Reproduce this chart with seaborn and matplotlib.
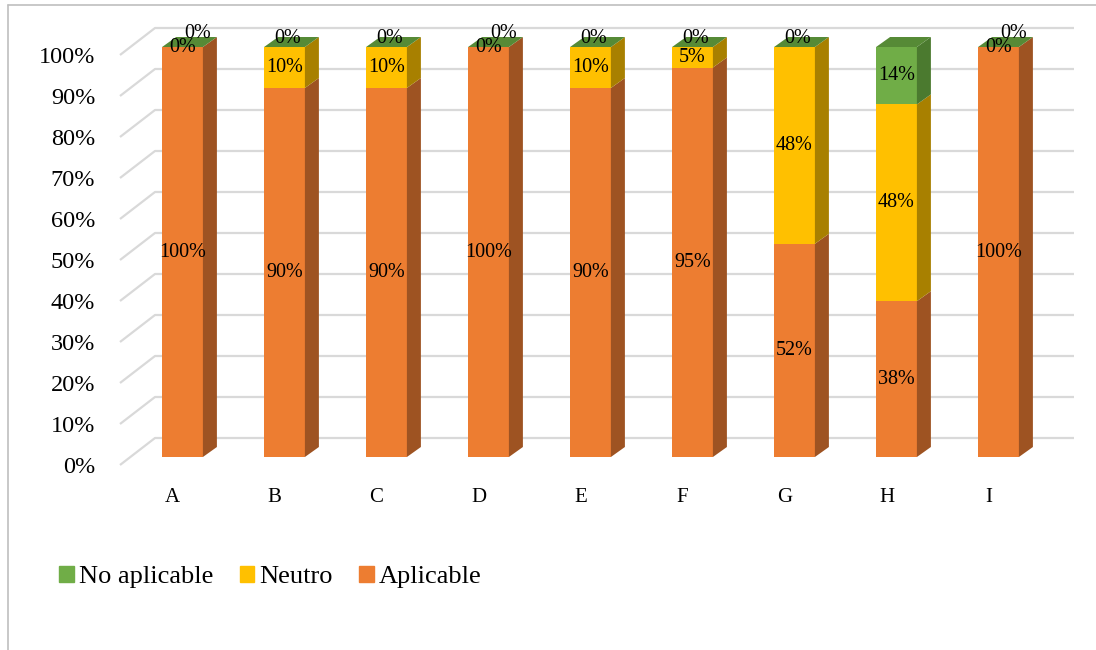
import numpy as np
import pandas as pd
import matplotlib
matplotlib.use("Agg")
import matplotlib.pyplot as plt
import matplotlib.transforms as mtransforms
from matplotlib.patches import Polygon, Patch
from matplotlib.lines import Line2D
import seaborn as sns

sns.set_style("white")
plt.rcParams["font.family"] = ["Liberation Serif", "DejaVu Serif"]
plt.rcParams["text.color"] = "black"
plt.rcParams["xtick.color"] = "black"
plt.rcParams["ytick.color"] = "black"

# data (percent)
categories   = ["A", "B", "C", "D", "E", "F", "G", "H", "I"]
aplicable    = [100, 90, 90, 100, 90, 95, 52, 38, 100]
neutro       = [0, 10, 10, 0, 10, 5, 48, 48, 0]
no_aplicable = [0, 0, 0, 0, 0, 0, 0, 14, 0]
yticks       = list(range(0, 101, 10))

ORANGE, ORANGE_S = "#ED7D31", "#9E5322"
YELLOW, YELLOW_S = "#FFC000", "#A88000"
GREEN, GREEN_S, GREEN_T = "#70AD47", "#4B7A2F", "#568A36"
GRID = "#D9D9D9"

df = pd.DataFrame({"cat": categories, "apl": aplicable, "neu": neutro, "noa": no_aplicable})
df["c1"] = df["apl"]
df["c2"] = df["apl"] + df["neu"]
df["c3"] = df["c2"] + df["noa"]

W, H = 1096, 650
fig = plt.figure(figsize=(W / 100, H / 100), dpi=100)

# pixel geometry of the excel-like 3d plot
px_c0, px_step = 182.5, 102.0     # first bar centre, spacing
px_y0, px_pct = 457.0, 4.1        # bar base, px per percent
ax_l, ax_r, ax_t, ax_b = 100, 1080, 20, 480
ax = fig.add_axes([ax_l / W, 1 - ax_b / H, (ax_r - ax_l) / W, (ax_b - ax_t) / H])

bw = 0.40
dx, dy = 14 / px_step, 10 / px_pct          # bar depth
g_front, g_back = -8 / px_pct, 19 / px_pct  # gridline front/back shift
gx_front = (120 - px_c0) / px_step
gx_back = (155 - px_c0) / px_step
gx_end = (1074 - px_c0) / px_step

for v in yticks:
    ax.plot([gx_front, gx_back, gx_end], [v + g_front, v + g_back, v + g_back],
            color=GRID, lw=1.6, zorder=1, solid_capstyle="butt")

# front faces: overlaid cumulative bars
for col, c in [("c3", GREEN), ("c2", YELLOW), ("c1", ORANGE)]:
    sns.barplot(data=df, x="cat", y=col, color=c, saturation=1, width=bw,
                linewidth=0, ax=ax, zorder=3)

# side and top faces
for i in range(len(categories)):
    xr = i + bw / 2
    segs = [(0, df.c1[i], ORANGE_S), (df.c1[i], df.c2[i], YELLOW_S), (df.c2[i], df.c3[i], GREEN_S)]
    for y0, y1, c in segs:
        if y1 > y0:
            ax.add_patch(Polygon([(xr, y0), (xr + dx, y0 + dy), (xr + dx, y1 + dy), (xr, y1)],
                                 closed=True, fc=c, ec="none", zorder=3))
    top = df.c3[i]
    ax.add_patch(Polygon([(i - bw / 2, top), (xr, top), (xr + dx, top + dy), (i - bw / 2 + dx, top + dy)],
                         closed=True, fc=GREEN_T, ec="none", zorder=3))

# data labels
for i in range(len(categories)):
    for lo, val in [(0, aplicable[i]), (df.c1[i], neutro[i])]:
        ax.annotate(f"{val}%", (i, lo + val / 2), ha="center", va="center",
                    fontsize=14.5, zorder=5)
    off = (15, 14) if neutro[i] == 0 else (3, 9)
    if no_aplicable[i] == 0:
        ax.annotate("0%", (i, df.c3[i]), xytext=off, textcoords="offset pixels",
                    ha="center", va="center", fontsize=14.5, zorder=5)
    else:
        ax.annotate(f"{no_aplicable[i]}%", (i, df.c2[i] + no_aplicable[i] / 2),
                    ha="center", va="center", fontsize=14.5, zorder=5)

# limits after seaborn (it resets the categorical axis)
ax.set_xlim((ax_l - px_c0) / px_step, (ax_r - px_c0) / px_step)
ax.set_ylim((px_y0 - ax_b) / px_pct, (px_y0 - ax_t) / px_pct)

ax.set_yticks(yticks)
ax.set_yticklabels([f"{v}%" for v in yticks], fontsize=17.5)
ax.set_xticks(range(len(categories)))
ax.set_xticklabels(categories, fontsize=15)
ax.tick_params(axis="y", length=0, pad=3.5)
ax.tick_params(axis="x", length=0, pad=6)
ax.set_xlabel("")
ax.set_ylabel("")
for s in ax.spines.values():
    s.set_visible(False)
ax.patch.set_alpha(0)

yoff = mtransforms.ScaledTranslation(0, -8 / 100, fig.dpi_scale_trans)
for lbl in ax.get_yticklabels():
    lbl.set_transform(lbl.get_transform() + yoff)
xoff = mtransforms.ScaledTranslation(-10 / 100, 0, fig.dpi_scale_trans)
for lbl in ax.get_xticklabels():
    lbl.set_transform(lbl.get_transform() + xoff)

handles = [Patch(color=GREEN), Patch(color=YELLOW), Patch(color=ORANGE)]
fig.legend(handles, ["No aplicable", "Neutro", "Aplicable"], loc="center left",
           bbox_to_anchor=(59 / W, 1 - 577 / H), ncol=3, frameon=False, fontsize=19,
           handlelength=0.55, handleheight=0.55, handletextpad=0.2, columnspacing=1.0,
           borderaxespad=0, borderpad=0)

# chart area border (left and top visible)
fig.add_artist(Line2D([8 / W, 8 / W], [0, 1 - 5 / H], color="#BFBFBF", lw=1.2))
fig.add_artist(Line2D([8 / W, 1], [1 - 5 / H, 1 - 5 / H], color="#BFBFBF", lw=1.2))

fig.savefig("out.png", dpi=100)
